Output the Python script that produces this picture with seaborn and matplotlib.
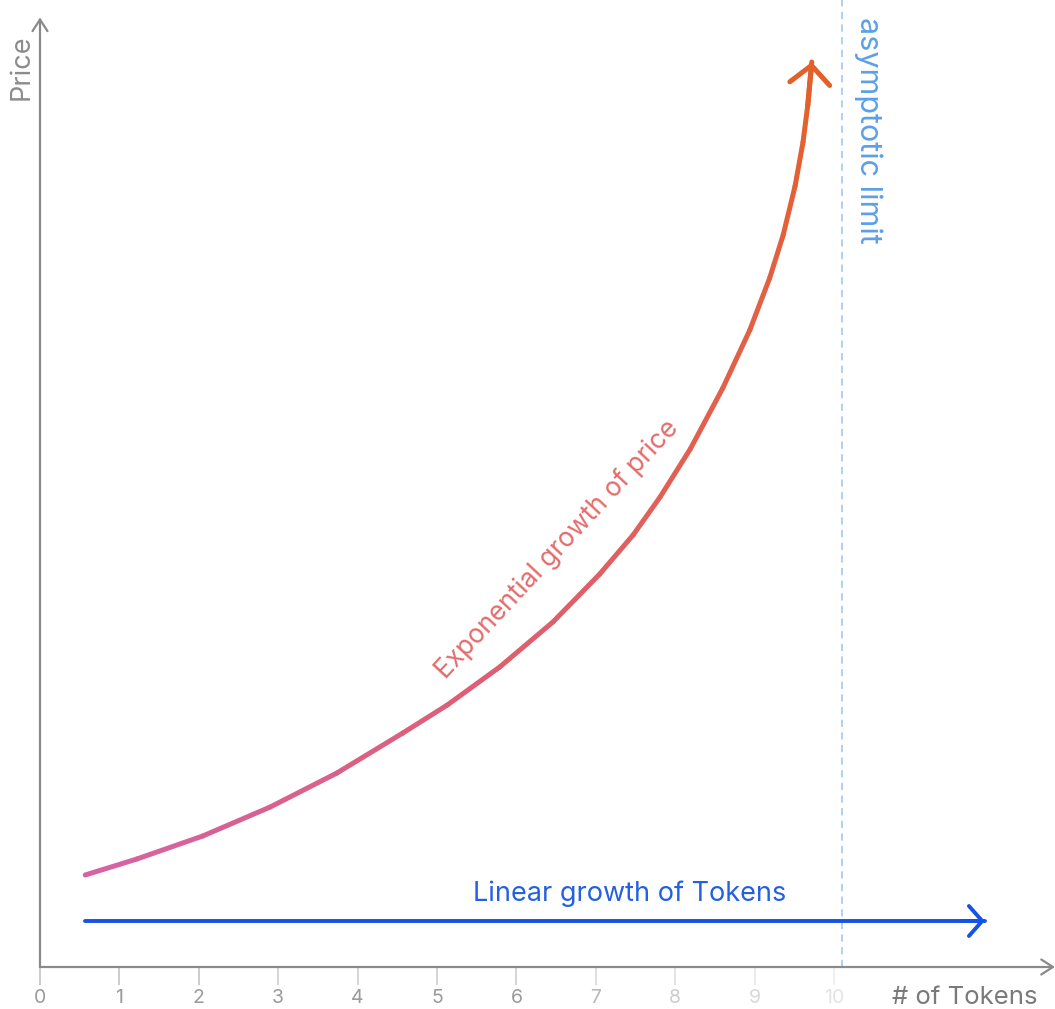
import numpy as np
import pandas as pd
import seaborn as sns
import matplotlib.pyplot as plt
from matplotlib.collections import LineCollection
from matplotlib.colors import LinearSegmentedColormap

# price curve (x in tokens, y in arbitrary price units)
tokens = [0.57, 1.22, 2.05, 2.90, 3.74, 4.57, 5.13, 5.79, 6.46, 7.05, 7.47,
          7.81, 8.19, 8.60, 8.94, 9.19, 9.36, 9.51, 9.61, 9.67, 9.72]
price = [9.2, 10.8, 13.1, 16.0, 19.4, 23.4, 26.2, 30.0, 34.5, 39.3, 43.2,
         47.0, 51.8, 57.9, 63.7, 68.9, 73.2, 78.1, 82.5, 86.2, 90.5]

linear_x = [0.57, 11.9]
linear_y = [4.6, 4.6]
limit_x = 10.1

tick_pos = list(range(11))
tick_labels = [str(t) for t in tick_pos]
label_colors = ["#9a9a9a"] * 7 + ["#b8b8b8", "#cccccc", "#d8d8d8", "#e4e4e4"]
tick_colors = ["#c8c8c8"] * 3 + ["#d2d2d2"] * 4 + ["#dcdcdc", "#e2e2e2", "#e8e8e8", "#eeeeee"]

sns.set_theme(style="white")
plt.rcParams["font.family"] = ["Inter", "DejaVu Sans"]

W, H = 1055, 1009
fig = plt.figure(figsize=(W / 100, H / 100), dpi=100)
x0, y0 = 40, 967  # origin in pixels
ax = fig.add_axes([x0 / W, (H - y0) / H, (W - x0) / W, y0 / H])

# linear growth line
df_lin = pd.DataFrame({"x": linear_x, "y": linear_y})
sns.lineplot(data=df_lin, x="x", y="y", ax=ax, color="#1652e4", lw=2.8)
ax.set_xlabel("")
ax.set_ylabel("")

ax.set_xlim(0, (W - x0) / 79.4)
ax.set_ylim(0, y0 / 10)
for s in ax.spines.values():
    s.set_visible(False)

axis_col = "#8a8a8a"
arrow_kw = dict(arrowstyle="->,head_length=0.7,head_width=0.45", color=axis_col,
                lw=1.6, shrinkA=0, shrinkB=0)
ax.annotate("", xy=(0, 0.982), xytext=(0, 0), xycoords="axes fraction",
            arrowprops=arrow_kw, annotation_clip=False)
ax.annotate("", xy=(1.0, 0), xytext=(0, 0), xycoords="axes fraction",
            arrowprops=arrow_kw, annotation_clip=False)

# ticks, fading out to the right
ax.set_xticks(tick_pos, tick_labels)
ax.set_yticks([])
ax.tick_params(axis="x", bottom=True, length=13, width=1.3, pad=3, labelsize=14)
for t, tc, lc in zip(ax.xaxis.get_major_ticks(), tick_colors, label_colors):
    t.tick1line.set_markeredgecolor(tc)
    t.label1.set_color(lc)

# asymptotic limit
ax.axvline(limit_x, color="#a9cdf3", lw=1.3, ls=(0, (4, 3)), zorder=1)
ax.text(10.43, 83.7, "asymptotic limit", rotation=-90, ha="center", va="center",
        color="#5c9fe8", fontsize=22)

ax.annotate("", xy=(linear_x[1], linear_y[1]), xytext=(linear_x[1] - 0.3, linear_y[1]),
            arrowprops=dict(arrowstyle="->,head_length=0.8,head_width=0.9",
                            color="#1652e4", lw=2.8, shrinkA=0, shrinkB=0))
ax.text(7.42, 7.3, "Linear growth of Tokens", ha="center", va="center",
        color="#2560e0", fontsize=19.5)

# exponential price curve with a pink -> orange gradient
cmap = LinearSegmentedColormap.from_list("price", ["#d662a3", "#de5f72", "#e2604a", "#e3602a"])
pts = np.column_stack([tokens, price])
segs = np.stack([pts[:-1], pts[1:]], axis=1)
t = np.linspace(0, 1, len(segs))
lc = LineCollection(segs, colors=cmap(t), linewidths=3.6, capstyle="round",
                    joinstyle="round", zorder=3)
ax.add_collection(lc)
ax.annotate("", xy=(tokens[-1], price[-1]), xytext=(tokens[-2], price[-2]),
            arrowprops=dict(arrowstyle="->,head_length=1.1,head_width=1.2",
                            color="#e3602a", lw=3.6, shrinkA=0, shrinkB=0), zorder=4)
ax.text(6.52, 41.8, "Exponential growth of price", rotation=47, rotation_mode="anchor",
        ha="center", va="center", color="#e36b6b", fontsize=19)

# axis names
ax.text(-0.227, 90.0, "Price", rotation=90, ha="center", va="center",
        color="#8c8c8c", fontsize=19.5, clip_on=False)
ax.text(11.65, -3.0, "# of Tokens", ha="center", va="center",
        color="#7a7a7a", fontsize=18.5, clip_on=False)

fig.savefig("out.png", dpi=100)
